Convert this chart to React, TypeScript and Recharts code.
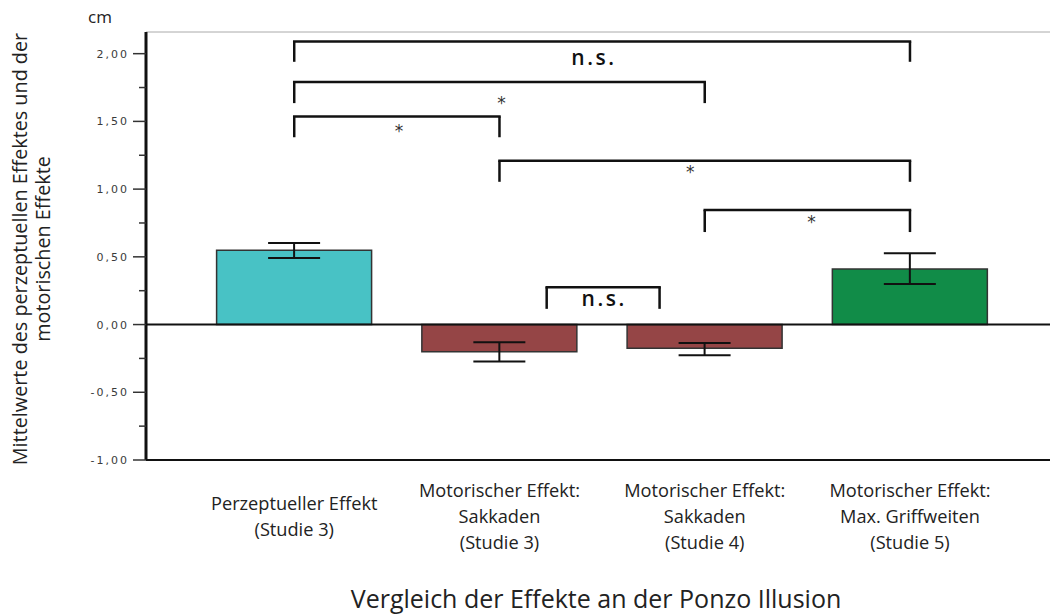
import React from "react";
import {
  BarChart, Bar, XAxis, YAxis, Cell, ErrorBar, ReferenceLine, ReferenceDot,
} from "recharts";

// categories (line breaks split the tick label)
const categories = [
  "Perzeptueller Effekt\n(Studie 3)",
  "Motorischer Effekt:\nSakkaden\n(Studie 3)",
  "Motorischer Effekt:\nSakkaden\n(Studie 4)",
  "Motorischer Effekt:\nMax. Griffweiten\n(Studie 5)",
];
const positions = [1, 2, 3, 4];
const means = [0.548, -0.2, -0.175, 0.41];
const errLower = [0.057, 0.072, 0.052, 0.11];
const errUpper = [0.054, 0.069, 0.039, 0.116];
const barColors = ["#48C2C5", "#954546", "#954546", "#118C48"];

const yTicks = [-1, -0.75, -0.5, -0.25, 0, 0.25, 0.5, 0.75, 1, 1.25, 1.5, 1.75, 2];

// significance brackets, x in category units (1..4)
const bracketFrom = [1, 1, 1, 2, 3, 2.23];
const bracketTo = [4, 3, 2, 4, 4, 2.78];
const bracketTop = [2.09, 1.79, 1.536, 1.21, 0.845, 0.276];
const bracketFoot = [1.94, 1.635, 1.383, 1.054, 0.683, 0.116];
const bracketMarks = ["n.s.", "*", "*", "*", "*", "n.s."];
const markX = [2.46, 2.01, 1.51, 2.93, 3.52, 2.51];
const markY = [1.96, 1.667, 1.459, 1.156, 0.785, 0.178];

const data = categories.map((name, i) => ({
  name,
  pos: positions[i],
  mean: means[i],
  err: [errLower[i], errUpper[i]],
}));

const X_PAD = { left: 45.6, right: 37.4 };
const LABEL_FONT = "'Open Sans', sans-serif";

const YTick = (props: any) => {
  const { x, y, payload } = props;
  const v = payload.value as number;
  const major = Math.abs(v * 2 - Math.round(v * 2)) < 1e-6;
  return (
    <g>
      <line x1={x - (major ? 13 : 7)} x2={x} y1={y} y2={y} stroke="#333" strokeWidth={1.5} />
      {major && (
        <text x={x - 17} y={y} dy={4} textAnchor="end" fontSize={11} letterSpacing={2}
          fontFamily="'DejaVu Sans', sans-serif" fill="#3a3a3a">
          {v.toFixed(2).replace(".", ",")}
        </text>
      )}
    </g>
  );
};

const XTick = (props: any) => {
  const { x, payload } = props;
  const lines = String(payload.value).split("\n");
  return (
    <text textAnchor="middle" fontSize={18.2} fontFamily={LABEL_FONT} fill="#222">
      {lines.map((l, i) => (
        <tspan key={i} x={x} y={517 + (i - (lines.length - 1) / 2) * 26 + 6}>{l}</tspan>
      ))}
    </text>
  );
};

const YLabel = () => (
  <g fontFamily={LABEL_FONT} fill="#222">
    <text x={100} y={23} textAnchor="middle" fontSize={17}>cm</text>
    <text transform="rotate(-90)" x={-249} y={27} textAnchor="middle" fontSize={19.8}>
      Mittelwerte des perzeptuellen Effektes und der
    </text>
    <text transform="rotate(-90)" x={-249} y={50} textAnchor="middle" fontSize={19.8}>
      motorischen Effekte
    </text>
  </g>
);

const XLabel = (props: any) => {
  const { viewBox } = props;
  return (
    <text x={viewBox.x + viewBox.width / 2 - 2} y={608} textAnchor="middle" fontSize={25}
      fontFamily={LABEL_FONT} fill="#222">
      Vergleich der Effekte an der Ponzo Illusion
    </text>
  );
};

const Mark = (text: string) => (p: any) => {
  const ns = text !== "*";
  return (
    <text x={p.cx} y={p.cy + (ns ? 6 : 10)} textAnchor="middle"
      fontFamily={ns ? LABEL_FONT : "'DejaVu Sans', sans-serif"}
      fontSize={ns ? 21 : 17} fontWeight={ns ? 600 : 400}
      letterSpacing={ns ? 2.5 : 0} fill={ns ? "#111" : "#333"}>
      {text}
    </text>
  );
};

export default function App() {
  return (
    <div style={{ position: "absolute", left: 0, top: 0, width: 1050, height: 615, background: "#fff" }}>
      <BarChart width={1050} height={615} data={data}
        margin={{ top: 32, right: 0, bottom: 0, left: 0 }} barCategoryGap={25}>
        <XAxis dataKey="name" padding={X_PAD} height={155} tickSize={0} tickMargin={0}
          axisLine={{ stroke: "#111", strokeWidth: 2 }} tickLine={false}
          tick={<XTick />} interval={0} label={<XLabel />} />
        <XAxis xAxisId="n" dataKey="pos" type="number" domain={[0.5, 4.5]} allowDataOverflow hide padding={X_PAD} />
        <YAxis domain={[-1, 2.16]} ticks={yTicks} width={146} tickSize={0} tickMargin={0}
          tickLine={false} axisLine={{ stroke: "#111", strokeWidth: 3 }}
          tick={<YTick />} interval={0} allowDataOverflow label={<YLabel />} />
        <ReferenceLine y={2.16} stroke="#aaa" strokeWidth={1} />
        <Bar dataKey="mean" stroke="#333" strokeWidth={1.5} isAnimationActive={false}>
          {data.map((d, i) => <Cell key={i} fill={barColors[i]} />)}
          <ErrorBar dataKey="err" width={26} stroke="#111" strokeWidth={2} isAnimationActive={false} />
        </Bar>
        <ReferenceLine y={0} stroke="#111" strokeWidth={2} />
        {bracketFrom.map((from, i) => (
          <React.Fragment key={i}>
            <ReferenceLine xAxisId="n" stroke="#111" strokeWidth={2.5} strokeLinecap="square"
              segment={[{ x: from, y: bracketTop[i] }, { x: bracketTo[i], y: bracketTop[i] }]} />
            <ReferenceLine xAxisId="n" stroke="#111" strokeWidth={2.5}
              segment={[{ x: from, y: bracketTop[i] }, { x: from, y: bracketFoot[i] }]} />
            <ReferenceLine xAxisId="n" stroke="#111" strokeWidth={2.5}
              segment={[{ x: bracketTo[i], y: bracketTop[i] }, { x: bracketTo[i], y: bracketFoot[i] }]} />
            <ReferenceDot xAxisId="n" x={markX[i]} y={markY[i]} r={0} shape={Mark(bracketMarks[i])} />
          </React.Fragment>
        ))}
      </BarChart>
    </div>
  );
}
